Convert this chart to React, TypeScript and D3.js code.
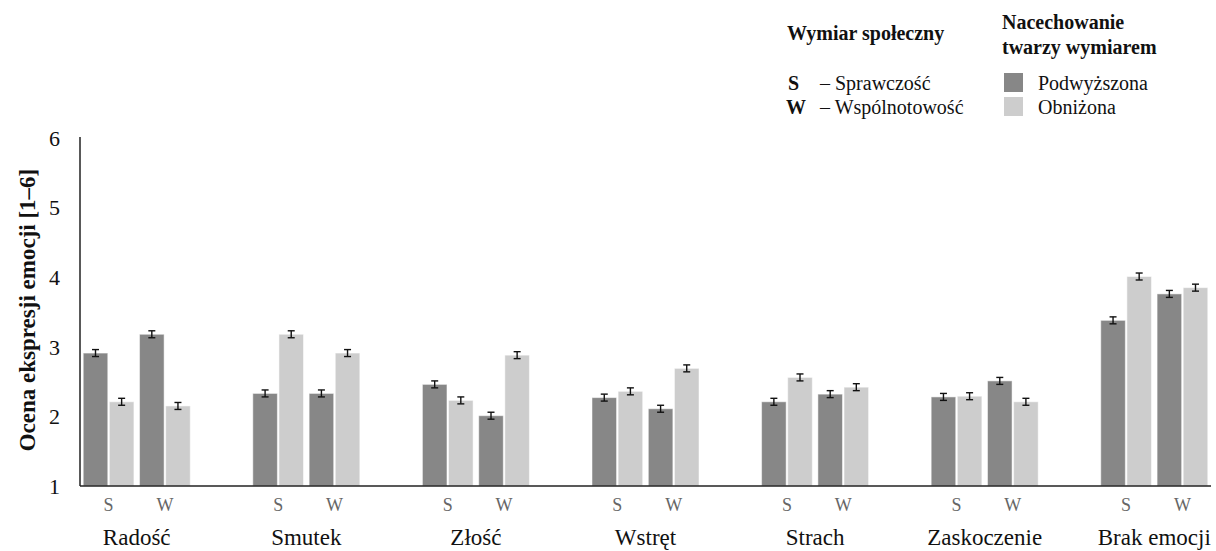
import React from 'react'
import * as d3 from 'd3'

const categories = ['Radość', 'Smutek', 'Złość', 'Wstręt', 'Strach', 'Zaskoczenie', 'Brak emocji']
const dimensions = ['S', 'W']
const seriesNames = ['Podwyższona', 'Obniżona']

// values per emotion, [dimension S, dimension W]
const podwyzszonaS = [2.91, 2.33, 2.46, 2.27, 2.21, 2.28, 3.38]
const podwyzszonaW = [3.18, 2.33, 2.01, 2.11, 2.32, 2.51, 3.76]
const obnizonaS = [2.21, 3.18, 2.23, 2.36, 2.56, 2.29, 4.01]
const obnizonaW = [2.15, 2.91, 2.88, 2.69, 2.42, 2.21, 3.85]
const errPodwyzszonaS = [0.05, 0.05, 0.05, 0.05, 0.05, 0.05, 0.05]
const errPodwyzszonaW = [0.05, 0.05, 0.05, 0.05, 0.05, 0.05, 0.05]
const errObnizonaS = [0.05, 0.05, 0.05, 0.05, 0.05, 0.05, 0.05]
const errObnizonaW = [0.05, 0.05, 0.05, 0.05, 0.05, 0.05, 0.05]
const yTicks = [1, 2, 3, 4, 5, 6]

const width = 1216
const height = 551
const colors = { 'Podwyższona': '#878787', 'Obniżona': '#cdcdcd' }
const font = '"Liberation Serif", "Times New Roman", serif'

const App = () => {
  const x = d3.scaleBand().domain(categories).range([80, 1211]).paddingInner(0.369).paddingOuter(0.019)
  const xDim = d3.scaleBand().domain(dimensions).range([0, x.bandwidth()]).paddingInner(0.1)
  const xSeries = d3.scaleBand().domain(seriesNames).range([0, xDim.bandwidth()]).paddingInner(0.06)
  const y = d3.scaleLinear().domain([1, 6]).range([486, 138])

  const bars = categories.flatMap((c, i) => [
    { c, dim: 'S', s: 'Podwyższona', v: podwyzszonaS[i], e: errPodwyzszonaS[i] },
    { c, dim: 'S', s: 'Obniżona', v: obnizonaS[i], e: errObnizonaS[i] },
    { c, dim: 'W', s: 'Podwyższona', v: podwyzszonaW[i], e: errPodwyzszonaW[i] },
    { c, dim: 'W', s: 'Obniżona', v: obnizonaW[i], e: errObnizonaW[i] }
  ])

  return (
    <svg width={width} height={height} style={{ position: 'absolute', left: 0, top: 0 }} fontFamily={font}>
      {bars.map((b, i) => {
        const bx = x(b.c) + xDim(b.dim) + xSeries(b.s)
        const bw = xSeries.bandwidth()
        const cx = bx + bw / 2
        return (
          <g key={i}>
            <rect x={bx} y={y(b.v)} width={bw} height={y(1) - y(b.v)} fill={colors[b.s]}
              stroke="#ffffff" strokeOpacity={0.5} strokeWidth={1} />
            <line x1={cx} x2={cx} y1={y(b.v + b.e)} y2={y(b.v - b.e)} stroke="#111" strokeWidth={1.4} />
            <line x1={cx - 3.5} x2={cx + 3.5} y1={y(b.v + b.e)} y2={y(b.v + b.e)} stroke="#111" strokeWidth={1.4} />
            <line x1={cx - 3.5} x2={cx + 3.5} y1={y(b.v - b.e)} y2={y(b.v - b.e)} stroke="#111" strokeWidth={1.4} />
          </g>
        )
      })}

      {/* axes */}
      <line x1={80} x2={80} y1={137} y2={y(1)} stroke="#222" strokeWidth={1.5} />
      <line x1={80} x2={1211} y1={y(1)} y2={y(1)} stroke="#222" strokeWidth={1.5} />
      {yTicks.map(t => (
        <text key={t} x={60} y={y(t)} dy="0.35em" textAnchor="end" fontSize={22} fill="#111">{t}</text>
      ))}
      <text transform="translate(27,310) rotate(-90)" textAnchor="middle" dy="0.35em" fontSize={23} fontWeight="bold" fill="#111">
        Ocena ekspresji emocji [1–6]
      </text>

      {categories.map(c => (
        <g key={c}>
          {dimensions.map(d => (
            <text key={d} x={x(c) + xDim(d) + xDim.bandwidth() / 2} y={511} textAnchor="middle" fontSize={18} fill="#666">{d}</text>
          ))}
          <text x={x(c) + x.bandwidth() / 2} y={545} textAnchor="middle" fontSize={23} fill="#111">{c}</text>
        </g>
      ))}

      {/* legend */}
      <text x={787} y={40} fontSize={20} fontWeight="bold" fill="#111">Wymiar społeczny</text>
      <text x={788} y={90} fontSize={20} fontWeight="bold" fill="#111">S</text>
      <text x={820} y={90} fontSize={20} fill="#111">– Sprawczość</text>
      <text x={786} y={114} fontSize={20} fontWeight="bold" fill="#111">W</text>
      <text x={820} y={114} fontSize={20} fill="#111">– Wspólnotowość</text>

      <text x={1002} y={29} fontSize={20} fontWeight="bold" fill="#111">Nacechowanie</text>
      <text x={1002} y={54} fontSize={20} fontWeight="bold" fill="#111">twarzy wymiarem</text>
      {seriesNames.map((s, i) => (
        <g key={s}>
          <rect x={1004} y={73 + i * 24} width={19} height={19} fill={colors[s]} />
          <text x={1038} y={90 + i * 24} fontSize={20} fill="#111">{s}</text>
        </g>
      ))}
    </svg>
  )
}

export default App
